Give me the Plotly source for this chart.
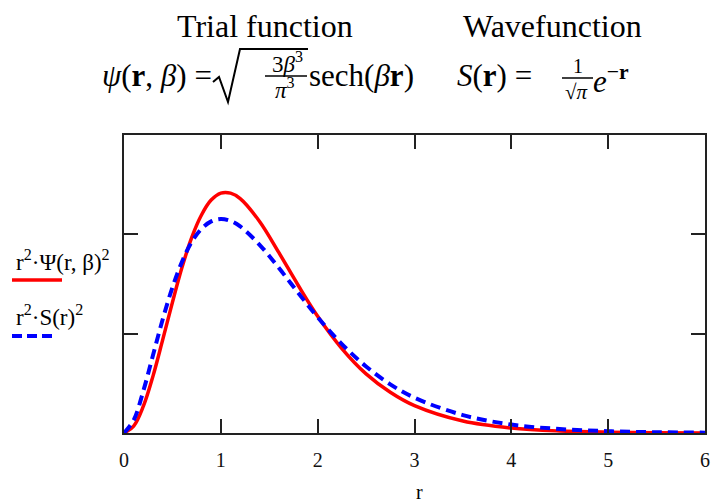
import plotly.graph_objects as go

# Values
r_vals = [0, 0.1, 0.2, 0.3, 0.4, 0.5, 0.6, 0.7, 0.8, 0.9, 1.0, 1.1, 1.2, 1.4, 1.6,
          1.8, 2.0, 2.25, 2.5, 2.75, 3.0, 3.5, 4.0, 4.5, 5.0, 5.5, 6.0]
trial_vals = [0, 0.0014, 0.0054, 0.0115, 0.0188, 0.0263, 0.0334, 0.0394, 0.0439,
              0.0469, 0.0483, 0.0483, 0.0472, 0.0426, 0.0363, 0.0297, 0.0235,
              0.0170, 0.0119, 0.0082, 0.0055, 0.0024, 0.0010, 0.0004, 0.00016,
              0.00006, 0.00002]
exact_vals = [0, 0.0026, 0.0085, 0.0157, 0.0229, 0.0293, 0.0345, 0.0385, 0.0411,
              0.0426, 0.0431, 0.0427, 0.0416, 0.0379, 0.0332, 0.0282, 0.0233,
              0.0179, 0.0134, 0.0098, 0.0071, 0.0036, 0.0017, 0.0008, 0.00036,
              0.00016, 0.00007]
x_ticks = [0, 1, 2, 3, 4, 5, 6]
y_ticks = [0.02, 0.04]

W, H = 713, 502
L, R, T, B = 124, 8, 135, 69
PW, PH = W - L - R, H - T - B
SERIF = "Liberation Serif, Times New Roman, serif"


def px(x):
    return (x - L) / PW


def py(y):
    return (H - B - y) / PH


fig = go.Figure()
fig.add_trace(go.Scatter(x=r_vals, y=trial_vals, mode="lines",
                         line=dict(color="#ff0000", width=3.5, shape="spline"),
                         name="trial"))
fig.add_trace(go.Scatter(x=r_vals, y=exact_vals, mode="lines",
                         line=dict(color="#0000ff", width=4, dash="10px,6px",
                                   shape="spline"),
                         name="exact"))

axis_common = dict(showline=True, linecolor="#222", linewidth=2, mirror="allticks",
                   ticks="inside", ticklen=14, tickwidth=2, tickcolor="#222",
                   showgrid=False, zeroline=False, automargin=False)
fig.update_xaxes(range=[0, 6], tickvals=x_ticks, ticktext=[str(t) for t in x_ticks],
                 tickfont=dict(family=SERIF, size=20, color="#111"),
                 ticklabelstandoff=8, **axis_common)
fig.update_yaxes(range=[0, 0.06], tickvals=y_ticks, showticklabels=False, **axis_common)

ann = []


def text(x, y, s, size, xanchor="center", yanchor="middle"):
    ann.append(dict(x=px(x), y=py(y), xref="paper", yref="paper", text=s,
                    showarrow=False, xanchor=xanchor, yanchor=yanchor,
                    borderpad=0,
                    font=dict(family=SERIF, size=size, color="#000")))


# Titles
text(265, 26, "Trial function", 32)
text(552, 26, "Wavefunction", 32)
# Formula line (left)
text(101, 76, "<i>ψ</i>(<b>r</b>, <i>β</i>) =", 31, xanchor="left")
text(287, 62, "3<i>β</i><sup>3</sup>", 23)
text(285, 89, "<i>π</i><sup>3</sup>", 23)
text(308, 76, "sech(<i>β</i><b>r</b>)", 31, xanchor="left")
# Formula line (right)
text(456, 76, "<i>S</i>(<b>r</b>) =", 31, xanchor="left")
text(578, 66, "1", 20)
text(576, 92, "√<i>π</i>", 21)
text(592, 79, "<i>e</i><sup>−<b>r</b></sup>", 31, xanchor="left")
# Legend texts
text(15, 260, "r<sup>2</sup>·Ψ(r, β)<sup>2</sup>", 23, xanchor="left")
text(15, 315, "r<sup>2</sup>·S(r)<sup>2</sup>", 23, xanchor="left")
# Axis title
text(419, 492, "r", 20)

shapes = []


def path(points, width=1.5, color="#000", dash=None):
    d = "M " + " L ".join(f"{px(a):.5f},{py(b):.5f}" for a, b in points)
    ln = dict(color=color, width=width)
    if dash:
        ln["dash"] = dash
    shapes.append(dict(type="path", path=d, xref="paper", yref="paper", line=ln))


# square root with fraction
path([(213, 82), (219, 77), (228, 102), (240, 49), (308, 49)], width=2)
path([(265, 76), (307, 76)], width=1.3)
# small fraction 1/sqrt(pi)
path([(562, 78), (593, 78)], width=1.3)
# legend line samples
path([(12, 280), (62, 280)], width=3.5, color="#ff0000")
path([(12, 336), (56, 336)], width=4, color="#0000ff", dash="10px,5px")

fig.update_layout(width=W, height=H, margin=dict(l=L, r=R, t=T, b=B),
                  paper_bgcolor="white", plot_bgcolor="white", showlegend=False,
                  annotations=ann, shapes=shapes)

fig.write_html("out.html", config={"displayModeBar": False},
               post_script="document.body.style.margin='0';document.body.style.overflow='hidden';")
